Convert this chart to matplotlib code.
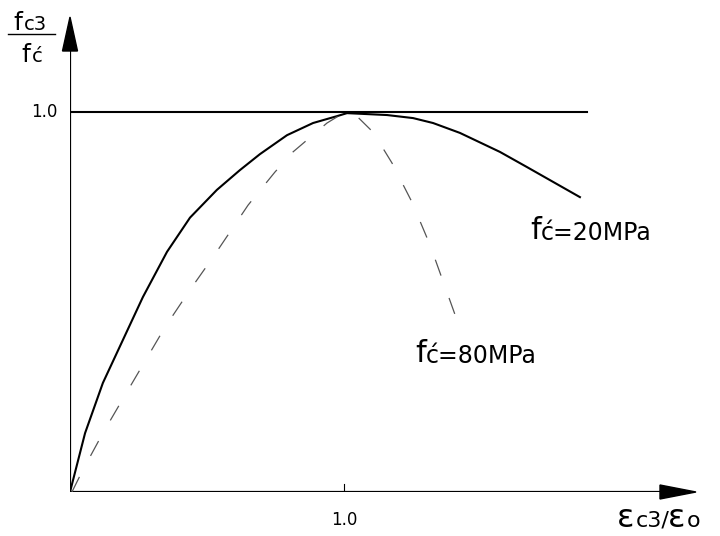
import matplotlib.pyplot as plt

# strain ratio / stress ratio
x_20 = [0, 0.055, 0.120, 0.193, 0.266, 0.354, 0.438, 0.536, 0.620, 0.693, 0.792, 0.887, 0.974,
        1.011, 1.157, 1.252, 1.325, 1.423, 1.569, 1.668, 1.861]
y_20 = [0, 0.155, 0.287, 0.400, 0.513, 0.632, 0.722, 0.795, 0.847, 0.889, 0.939, 0.971, 0.989,
        0.997, 0.992, 0.984, 0.971, 0.945, 0.895, 0.855, 0.776]

x_80 = [0.007, 0.047, 0.120, 0.201, 0.347, 0.438, 0.522, 0.650, 0.748, 0.814, 0.938, 1.004,
        1.047, 1.106, 1.175, 1.248, 1.314, 1.412]
y_80 = [0, 0.058, 0.155, 0.255, 0.434, 0.532, 0.618, 0.755, 0.842, 0.895, 0.971, 1.0,
        0.989, 0.947, 0.866, 0.763, 0.650, 0.453]

ref_line_end = 1.887

W, H = 720, 536
fig = plt.figure(figsize=(W / 100, H / 100), dpi=100)
ax = fig.add_axes([70 / W, 44 / H, 625 / W, 474 / H])
ax.set_xlim(0, 625 / 274)
ax.set_ylim(0, 474 / 380)
ax.axis('off')


def px(x, y):
    # pixel position (from top-left) to figure fraction
    return (x / W, 1 - y / H)


# axes with arrow heads
ax.plot([0, 0], [0, 1.16], color='black', lw=1.6, solid_capstyle='butt')
ax.plot([0, 2.16], [0, 0], color='black', lw=1.6, solid_capstyle='butt')
fig.add_artist(plt.Polygon([px(70, 17), px(62.5, 51), px(77.5, 51)], closed=True,
                           color='black', transform=fig.transFigure))
fig.add_artist(plt.Polygon([px(696, 492), px(660, 485), px(660, 499)], closed=True,
                           color='black', transform=fig.transFigure))

ax.plot([0, ref_line_end], [1, 1], color='black', lw=1.5)
ax.plot([1, 1], [0, 0.022], color='black', lw=0.8)

ax.plot(x_20, y_20, color='black', lw=1.5)
ax.plot(x_80, y_80, color='#555555', lw=0.9, dashes=(13.5, 19))

font = 'DejaVu Sans'
ax.text(-0.047, 1.0, '1.0', ha='right', va='center', fontsize=12, family=font)
ax.text(1.0, -0.05, '1.0', ha='center', va='top', fontsize=12, family=font)

t1 = ax.text((530 - 70) / 274, (492 - 239) / 380, 'f', fontsize=22, family=font,
             ha='left', va='baseline')
ax.annotate('ć=20MPa', xy=(0.97, 0), xycoords=t1, fontsize=17, family=font, va='bottom', ha='left')
t2 = ax.text((415 - 70) / 274, (492 - 362) / 380, 'f', fontsize=22, family=font,
             ha='left', va='baseline')
ax.annotate('ć=80MPa', xy=(0.97, 0), xycoords=t2, fontsize=17, family=font, va='bottom', ha='left')

# y label as a fraction
fig.text(*px(13, 30), 'f', fontsize=18, family=font, ha='left', va='baseline')
fig.text(*px(24, 30), 'c3', fontsize=14, family=font, ha='left', va='baseline')
fig.add_artist(plt.Line2D([8 / W, 55 / W], [1 - 34 / H, 1 - 34 / H], color='black', lw=1))
fig.text(*px(21, 62), 'f', fontsize=18, family=font, ha='left', va='baseline')
fig.text(*px(32, 62), 'ć', fontsize=14, family=font, ha='left', va='baseline')

# x label
fig.text(*px(617, 527), 'ε', fontsize=23, family=font, ha='left', va='baseline')
fig.text(*px(636, 527), 'c3/', fontsize=16, family=font, ha='left', va='baseline')
fig.text(*px(668, 527), 'ε', fontsize=23, family=font, ha='left', va='baseline')
fig.text(*px(687, 527), 'o', fontsize=16, family=font, ha='left', va='baseline')

fig.savefig('out.png', dpi=100)
